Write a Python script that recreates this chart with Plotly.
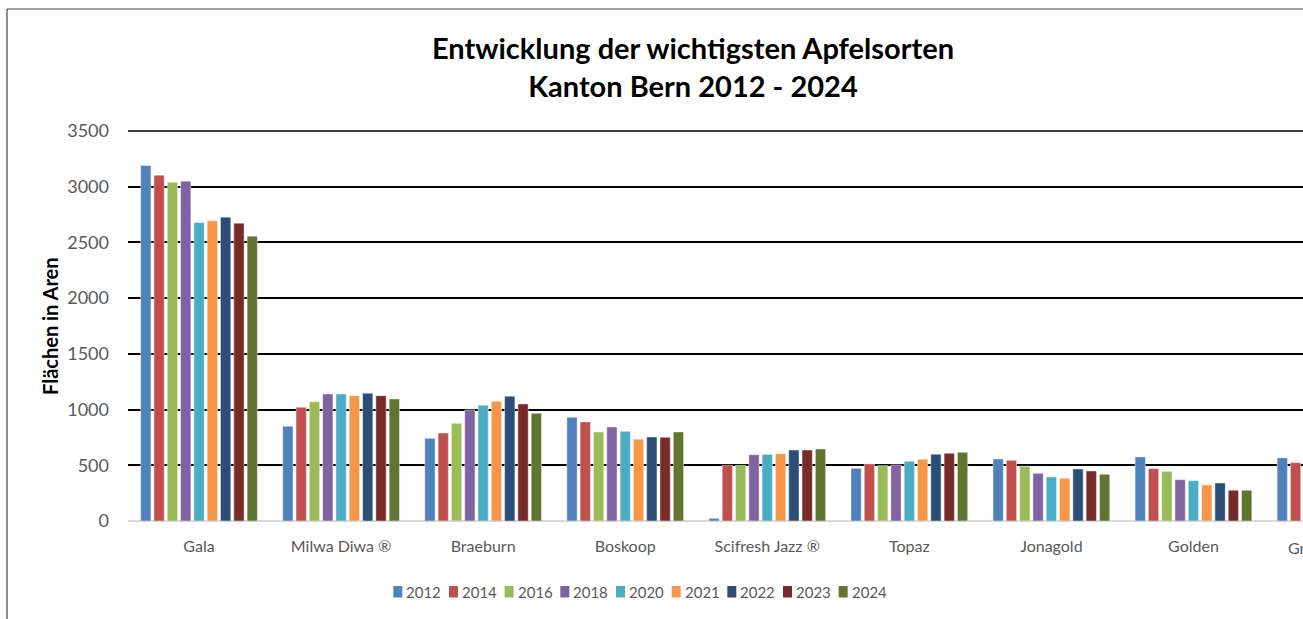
import plotly.graph_objects as go

sorten = ['Gala', 'Milwa Diwa ®', 'Braeburn', 'Boskoop', 'Scifresh Jazz ®',
          'Topaz', 'Jonagold', 'Golden', 'Granny Smith']
jahre = ['2012', '2014', '2016', '2018', '2020', '2021', '2022', '2023', '2024']

# Flächen in Aren, eine Liste pro Jahr (Reihenfolge wie sorten)
a2012 = [3190, 850, 742, 931, 24, 473, 557, 575, 566]
a2014 = [3104, 1021, 790, 889, 500, 512, 545, 470, 524]
a2016 = [3041, 1071, 877, 799, 500, 497, 491, 446, None]
a2018 = [3050, 1140, 997, 844, 595, 503, 428, 371, None]
a2020 = [2679, 1140, 1039, 805, 598, 536, 395, 362, None]
a2021 = [2694, 1125, 1075, 734, 604, 554, 383, 323, None]
a2022 = [2727, 1147, 1120, 754, 637, 599, 467, 341, None]
a2023 = [2673, 1125, 1051, 751, 637, 608, 449, 276, None]
a2024 = [2556, 1095, 967, 799, 646, 617, 419, 276, None]

werte = [a2012, a2014, a2016, a2018, a2020, a2021, a2022, a2023, a2024]
farben = ['#4F81BD', '#C0504D', '#9BBB59', '#8064A2', '#4BACC6',
          '#F79646', '#2C4D75', '#772C2A', '#5F7530']

W, H = 1303, 619
ML, MR, MT, MB = 128, 0, 131, 98
pw = W - ML - MR
ph = H - MT - MB
cat_px = 142.06
x_range = [-0.5, -0.5 + pw / cat_px]
y_max = 3500

fig = go.Figure()
for jahr, y, c in zip(jahre, werte, farben):
    fig.add_trace(go.Bar(x=sorten, y=y, name=jahr, marker_color=c,
                         marker_line=dict(color='rgba(255,255,255,0.55)', width=0.8)))


def px_x(p):
    return (p - ML) / pw


def px_y(p):
    return (H - MB - p) / ph


annos = []
shapes = []

# Kategorie ausserhalb des sichtbaren Bereichs (abgeschnitten)
frac = (8 - x_range[0]) / (x_range[1] - x_range[0])
annos.append(dict(xref='paper', yref='paper', x=frac, y=px_y(547), text=sorten[8],
                  showarrow=False, xanchor='center', yanchor='middle',
                  font=dict(family='Lato', size=16, color='#595959')))

# Achsentitel
annos.append(dict(xref='paper', yref='paper', x=px_x(50), y=0.5, text='<b>Flächen in Aren</b>',
                  textangle=-90, showarrow=False, xanchor='center', yanchor='middle',
                  font=dict(family='Lato', size=20, color='black')))

# Legende
for i, (jahr, c) in enumerate(zip(jahre, farben)):
    x0 = 393.3 + i * 55.67
    shapes.append(dict(type='rect', xref='paper', yref='paper',
                       x0=px_x(x0), x1=px_x(x0 + 9), y0=px_y(597.5), y1=px_y(586),
                       fillcolor=c, line=dict(width=0)))
    annos.append(dict(xref='paper', yref='paper', x=px_x(x0 + 11), y=px_y(591.5), text=jahr,
                      showarrow=False, xanchor='left', yanchor='middle',
                      font=dict(family='Lato', size=15, color='#595959')))

# oberste Gitterlinie (Plotly lässt sie am Rand weg)
shapes.append(dict(type='line', xref='paper', yref='paper', x0=0, x1=1, y0=1, y1=1,
                   line=dict(color='black', width=1.5)))

# Rahmen
shapes.append(dict(type='line', xref='paper', yref='paper', x0=px_x(7), x1=px_x(7),
                   y0=px_y(9), y1=px_y(H + 5), line=dict(color='#404040', width=1.2)))
shapes.append(dict(type='line', xref='paper', yref='paper', x0=px_x(7), x1=px_x(W + 5),
                   y0=px_y(9), y1=px_y(9), line=dict(color='#404040', width=1.2)))

fig.update_layout(
    width=W, height=H,
    margin=dict(l=ML, r=MR, t=MT, b=MB),
    paper_bgcolor='white', plot_bgcolor='white',
    barmode='group', bargap=0.157, bargroupgap=0.226,
    showlegend=False,
    font=dict(family='Lato', size=18, color='#595959'),
    title=dict(text='<b>Entwicklung der wichtigsten Apfelsorten<br>Kanton Bern 2012 - 2024</b>',
               x=693 / W, xanchor='center', y=1 - 59 / H, yanchor='middle',
               font=dict(family='Lato', size=29, color='black')),
    annotations=annos,
    shapes=shapes,
)
fig.update_xaxes(range=x_range, showgrid=False, showline=False, zeroline=False,
                 ticks='outside', ticklen=11, tickcolor='rgba(0,0,0,0)',
                 tickfont=dict(family='Lato', size=16, color='#595959'))
fig.update_yaxes(range=[0, y_max], dtick=500, showgrid=True, gridcolor='black', gridwidth=1.5,
                 zeroline=True, zerolinecolor='#D9D9D9', zerolinewidth=2,
                 showline=False, ticklabelstandoff=18,
                 tickfont=dict(family='Lato', size=18, color='#595959'))

fig.write_html('out.html', config={'displayModeBar': False},
               post_script="document.body.style.margin='0px';")
